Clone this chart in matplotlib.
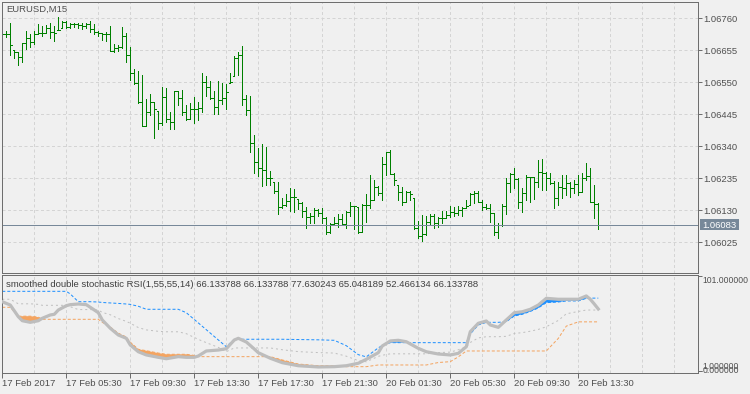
"""EURUSD M15 bar chart with the smoothed double stochastic RSI panel underneath."""
import matplotlib
matplotlib.use("Agg")
import matplotlib.pyplot as plt
import numpy as np
from matplotlib.patches import Rectangle

# --- price bars (one per 15 minutes) ---
HIGH = [
    1.06712, 1.06718, 1.06745, 1.06656, 1.06650, 1.06680, 1.06719, 1.06708, 1.06719, 1.06741,
    1.06735, 1.06738, 1.06743, 1.06735, 1.06765, 1.06751, 1.06751, 1.06745, 1.06745, 1.06745,
    1.06743, 1.06745, 1.06751, 1.06740, 1.06718, 1.06713, 1.06716, 1.06735, 1.06677, 1.06672,
    1.06732, 1.06710, 1.06666, 1.06595, 1.06587, 1.06574, 1.06495, 1.06510, 1.06486, 1.06457,
    1.06535, 1.06530, 1.06453, 1.06521, 1.06521, 1.06524, 1.06475, 1.06483, 1.06502, 1.06486,
    1.06580, 1.06571, 1.06553, 1.06522, 1.06553, 1.06547, 1.06545, 1.06582, 1.06637, 1.06648,
    1.06670, 1.06509, 1.06506, 1.06378, 1.06334, 1.06348, 1.06337, 1.06260, 1.06224, 1.06224,
    1.06170, 1.06184, 1.06203, 1.06200, 1.06167, 1.06156, 1.06142, 1.06121, 1.06137, 1.06134,
    1.06137, 1.06110, 1.06090, 1.06108, 1.06119, 1.06119, 1.06129, 1.06157, 1.06146, 1.06142,
    1.06150, 1.06183, 1.06246, 1.06230, 1.06210, 1.06305, 1.06323, 1.06328, 1.06252, 1.06214,
    1.06208, 1.06195, 1.06195, 1.06172, 1.06096, 1.06115, 1.06113, 1.06118, 1.06118, 1.06110,
    1.06128, 1.06128, 1.06145, 1.06142, 1.06145, 1.06142, 1.06164, 1.06186, 1.06194, 1.06195,
    1.06164, 1.06151, 1.06150, 1.06121, 1.06088, 1.06150, 1.06236, 1.06252, 1.06268, 1.06236,
    1.06203, 1.06246, 1.06241, 1.06241, 1.06296, 1.06299, 1.06257, 1.06252, 1.06227, 1.06224,
    1.06246, 1.06246, 1.06223, 1.06230, 1.06246, 1.06252, 1.06285, 1.06268, 1.06214, 1.06154,
]
LOW = [
    1.06703, 1.06697, 1.06641, 1.06630, 1.06608, 1.06617, 1.06659, 1.06666, 1.06677, 1.06707,
    1.06702, 1.06713, 1.06694, 1.06686, 1.06721, 1.06729, 1.06728, 1.06728, 1.06732, 1.06729,
    1.06725, 1.06727, 1.06716, 1.06707, 1.06702, 1.06688, 1.06685, 1.06652, 1.06648, 1.06654,
    1.06663, 1.06615, 1.06559, 1.06546, 1.06483, 1.06406, 1.06407, 1.06442, 1.06368, 1.06396,
    1.06410, 1.06420, 1.06398, 1.06398, 1.06475, 1.06442, 1.06426, 1.06429, 1.06415, 1.06426,
    1.06451, 1.06506, 1.06495, 1.06447, 1.06447, 1.06479, 1.06462, 1.06547, 1.06571, 1.06575,
    1.06476, 1.06443, 1.06320, 1.06252, 1.06243, 1.06211, 1.06214, 1.06214, 1.06188, 1.06117,
    1.06139, 1.06146, 1.06128, 1.06124, 1.06136, 1.06108, 1.06072, 1.06090, 1.06090, 1.06112,
    1.06090, 1.06052, 1.06057, 1.06082, 1.06077, 1.06082, 1.06072, 1.06112, 1.06068, 1.06057,
    1.06060, 1.06093, 1.06139, 1.06164, 1.06181, 1.06164, 1.06246, 1.06250, 1.06214, 1.06164,
    1.06148, 1.06157, 1.06164, 1.06069, 1.06041, 1.06031, 1.06050, 1.06082, 1.06072, 1.06077,
    1.06090, 1.06106, 1.06110, 1.06113, 1.06115, 1.06113, 1.06137, 1.06148, 1.06154, 1.06157,
    1.06131, 1.06135, 1.06091, 1.06050, 1.06041, 1.06080, 1.06117, 1.06192, 1.06203, 1.06137,
    1.06126, 1.06164, 1.06159, 1.06168, 1.06208, 1.06197, 1.06197, 1.06216, 1.06137, 1.06148,
    1.06170, 1.06179, 1.06173, 1.06186, 1.06181, 1.06192, 1.06230, 1.06157, 1.06106, 1.06069,
]
OPEN = [
    1.06708, 1.06708, 1.06708, 1.06656, 1.06650, 1.06634, 1.06680, 1.06696, 1.06682, 1.06708,
    1.06711, 1.06713, 1.06729, 1.06716, 1.06721, 1.06729, 1.06749, 1.06731, 1.06742, 1.06740,
    1.06738, 1.06733, 1.06741, 1.06725, 1.06716, 1.06710, 1.06708, 1.06707, 1.06653, 1.06663,
    1.06667, 1.06703, 1.06641, 1.06582, 1.06549, 1.06486, 1.06407, 1.06453, 1.06486, 1.06457,
    1.06415, 1.06502, 1.06431, 1.06420, 1.06521, 1.06499, 1.06453, 1.06431, 1.06464, 1.06464,
    1.06466, 1.06551, 1.06533, 1.06500, 1.06469, 1.06493, 1.06498, 1.06547, 1.06571, 1.06629,
    1.06640, 1.06495, 1.06460, 1.06352, 1.06288, 1.06268, 1.06261, 1.06237, 1.06224, 1.06195,
    1.06140, 1.06147, 1.06161, 1.06175, 1.06167, 1.06154, 1.06128, 1.06110, 1.06112, 1.06132,
    1.06121, 1.06104, 1.06060, 1.06086, 1.06090, 1.06102, 1.06085, 1.06126, 1.06146, 1.06142,
    1.06060, 1.06148, 1.06148, 1.06164, 1.06208, 1.06186, 1.06283, 1.06320, 1.06250, 1.06214,
    1.06192, 1.06159, 1.06190, 1.06172, 1.06072, 1.06047, 1.06052, 1.06093, 1.06113, 1.06088,
    1.06106, 1.06106, 1.06115, 1.06126, 1.06121, 1.06131, 1.06137, 1.06148, 1.06183, 1.06186,
    1.06159, 1.06142, 1.06139, 1.06121, 1.06058, 1.06082, 1.06146, 1.06219, 1.06250, 1.06232,
    1.06159, 1.06186, 1.06239, 1.06239, 1.06224, 1.06255, 1.06254, 1.06236, 1.06219, 1.06170,
    1.06208, 1.06205, 1.06219, 1.06203, 1.06216, 1.06192, 1.06236, 1.06243, 1.06159, 1.06150,
]
CLOSE = [
    1.06708, 1.06708, 1.06672, 1.06650, 1.06634, 1.06680, 1.06696, 1.06682, 1.06708, 1.06711,
    1.06710, 1.06729, 1.06716, 1.06713, 1.06722, 1.06749, 1.06731, 1.06742, 1.06740, 1.06738,
    1.06733, 1.06741, 1.06725, 1.06716, 1.06710, 1.06708, 1.06707, 1.06653, 1.06663, 1.06667,
    1.06703, 1.06641, 1.06582, 1.06549, 1.06486, 1.06407, 1.06453, 1.06486, 1.06462, 1.06415,
    1.06502, 1.06431, 1.06420, 1.06521, 1.06499, 1.06453, 1.06431, 1.06464, 1.06464, 1.06466,
    1.06551, 1.06533, 1.06500, 1.06469, 1.06493, 1.06498, 1.06518, 1.06551, 1.06629, 1.06640,
    1.06495, 1.06460, 1.06352, 1.06288, 1.06268, 1.06261, 1.06237, 1.06237, 1.06195, 1.06140,
    1.06147, 1.06161, 1.06175, 1.06173, 1.06154, 1.06128, 1.06110, 1.06112, 1.06132, 1.06121,
    1.06104, 1.06060, 1.06086, 1.06090, 1.06102, 1.06085, 1.06126, 1.06146, 1.06146, 1.06060,
    1.06148, 1.06148, 1.06164, 1.06208, 1.06186, 1.06283, 1.06320, 1.06250, 1.06230, 1.06192,
    1.06159, 1.06190, 1.06183, 1.06072, 1.06047, 1.06052, 1.06093, 1.06113, 1.06088, 1.06106,
    1.06106, 1.06115, 1.06126, 1.06121, 1.06131, 1.06137, 1.06146, 1.06183, 1.06186, 1.06159,
    1.06142, 1.06139, 1.06121, 1.06058, 1.06082, 1.06146, 1.06219, 1.06250, 1.06232, 1.06159,
    1.06186, 1.06239, 1.06239, 1.06224, 1.06255, 1.06254, 1.06236, 1.06219, 1.06170, 1.06208,
    1.06205, 1.06219, 1.06203, 1.06216, 1.06192, 1.06236, 1.06243, 1.06159, 1.06150, 1.06083,
]
LAST_PRICE = 1.06083
PRICE_TICKS = [1.06025, 1.06130, 1.06235, 1.06340, 1.06445, 1.06550, 1.06655, 1.06760]
TIME_TICKS = [0, 16, 32, 48, 64, 80, 96, 112, 128, 144]
TIME_LABELS = ["17 Feb 2017", "17 Feb 05:30", "17 Feb 09:30", "17 Feb 13:30", "17 Feb 17:30",
               "17 Feb 21:30", "20 Feb 01:30", "20 Feb 05:30", "20 Feb 09:30", "20 Feb 13:30"]

# --- indicator, sampled at these bars ---
IND_X = [0, 2, 4, 5, 7, 9, 10, 12, 13, 14, 16, 17, 19, 21, 22, 24, 25, 27, 29, 31,
         32, 34, 36, 39, 41, 44, 46, 48, 49, 51, 54, 56, 58, 59, 61, 63, 64, 67, 70, 74,
         79, 83, 86, 89, 91, 94, 95, 97, 99, 101, 104, 106, 109, 112, 114, 116, 117, 119, 121, 122,
         124, 126, 128, 130, 132, 134, 136, 139, 141, 144, 146, 147, 148, 149]
RSI_MAIN = [73.8, 70.3, 58.0, 53.7, 52.0, 53.7, 56.3, 59.8, 60.5, 65.0, 69.6, 70.7, 71.4, 70.7, 67.9, 62.2, 54.5, 45.7, 38.6, 35.1,
            28.0, 20.9, 17.5, 15.0, 13.5, 15.7, 15.0, 15.0, 16.4, 21.7, 22.7, 24.1, 33.3, 35.1, 31.2, 23.8, 19.9, 14.0, 9.3, 6.1,
            4.8, 5.1, 6.1, 8.7, 12.9, 19.9, 27.0, 32.3, 33.0, 31.5, 24.5, 20.9, 18.5, 17.5, 19.2, 26.2, 42.1, 51.0, 53.4, 49.2,
            46.7, 54.5, 62.2, 63.2, 65.8, 70.3, 77.4, 76.4, 76.4, 76.4, 79.9, 76.4, 71.4, 66.1]
LEVEL_UP = [84.8, 84.8, 84.8, 84.8, 84.8, 84.8, 84.8, 84.8, 84.8, 84.8, 84.8, 82.0, 73.8, 73.8, 73.8, 73.5, 73.0, 72.5, 72.0, 71.4,
            71.0, 69.0, 65.8, 65.8, 65.8, 65.8, 62.2, 55.0, 51.4, 44.2, 33.4, 26.2, 34.1, 34.1, 34.1, 34.1, 34.1, 34.1, 34.1, 33.8,
            33.5, 33.0, 27.3, 17.8, 15.5, 25.0, 27.5, 30.5, 30.5, 30.5, 30.5, 30.5, 30.5, 30.5, 30.5, 30.5, 39.7, 49.2, 52.0, 52.0,
            52.0, 52.7, 58.7, 60.5, 63.5, 67.2, 72.8, 73.5, 74.6, 74.6, 77.4, 77.6, 77.6, 77.6]
LEVEL_DN = [67.9, 67.9, 58.5, 58.5, 58.5, 57.5, 55.2, 55.2, 55.2, 55.2, 55.2, 55.2, 55.2, 55.2, 55.2, 55.2, 52.0, 47.0, 40.5, 36.5,
            31.0, 23.5, 22.0, 19.5, 18.2, 18.2, 18.2, 17.0, 15.7, 15.7, 15.7, 15.7, 15.7, 15.7, 15.7, 15.7, 15.7, 15.7, 12.2, 7.9,
            6.1, 6.1, 5.1, 5.1, 5.1, 6.9, 6.9, 6.9, 6.9, 6.9, 6.9, 6.9, 9.5, 10.4, 15.5, 21.7, 21.7, 21.7, 21.7, 21.7,
            21.7, 21.7, 21.7, 21.7, 21.7, 21.7, 21.7, 35.0, 48.0, 52.5, 52.5, 52.5, 52.5, 52.5]
LEVEL_MID = [76.4, 76.4, 71.6, 71.6, 71.6, 71.0, 70.0, 70.0, 70.0, 70.0, 70.0, 68.5, 65.5, 65.5, 65.5, 65.0, 62.5, 60.0, 56.0, 53.0,
             51.0, 46.5, 44.0, 42.5, 42.0, 42.0, 40.0, 36.0, 34.0, 30.5, 25.5, 21.0, 24.9, 24.9, 24.9, 24.9, 24.9, 24.9, 23.0, 21.0,
             20.0, 19.5, 16.2, 11.5, 10.3, 16.0, 17.2, 18.7, 18.7, 18.7, 18.7, 18.7, 20.0, 20.5, 23.0, 26.0, 30.7, 35.5, 36.8, 36.8,
             36.8, 37.2, 40.2, 41.1, 42.6, 44.5, 47.3, 54.0, 61.0, 63.5, 65.0, 65.0, 65.0, 65.0]
IND_NAME = "smoothed double stochastic RSI(1,55,55,14)"
IND_VALUES = "66.133788 66.133788 77.630243 65.048189 52.466134 66.133788"

plt.rcParams["font.family"] = ["Liberation Sans", "DejaVu Sans"]
plt.rcParams["font.size"] = 6.8

BG = "#f0f0f0"
AXIS = "#6e6e6e"
TEXT = "#505050"
GRID = "#d4d4d4"
BAR = "#008000"
PRICE_LINE = "#778899"
BLUE = "#1e90ff"
ORANGE = "#f4a460"
SILVER = "#c0c0c0"
PX = 0.72  # one pixel, in points
W, H = 750, 394
DASH = (0, (3, 2.5))

fig = plt.figure(figsize=(W / 100, H / 100), dpi=100, facecolor=BG)


def add_panel(top, bottom, left=2.0, right=697.5):
    ax = fig.add_axes([left / W, 1 - bottom / H, (right - left) / W, (bottom - top) / H])
    ax.set_facecolor(BG)
    for s in ax.spines.values():
        s.set_color(AXIS)
        s.set_linewidth(PX)
    ax.set_axisbelow(True)
    ax.set_xlim(-0.075, 173.8)
    return ax


grid_x = np.arange(8, 174, 8)

# main price panel
ax = add_panel(2, 273.3)
ax.set_ylim(1.059239, 1.068132)
x = np.arange(len(CLOSE))
ax.vlines(x, LOW, HIGH, color=BAR, lw=PX, antialiased=False)
ax.hlines(OPEN, x - 0.35, x, color=BAR, lw=PX, antialiased=False)
ax.hlines(CLOSE, x, x + 0.35, color=BAR, lw=PX, antialiased=False)
ax.axhline(LAST_PRICE, color=PRICE_LINE, lw=PX)
ax.set_xticks(grid_x)
ax.set_yticks(PRICE_TICKS)
ax.set_yticklabels([f"{p:.5f}" for p in PRICE_TICKS])
ax.yaxis.tick_right()
ax.tick_params(axis="x", length=0, labelbottom=False)
ax.tick_params(axis="y", direction="out", length=3, width=PX, color=AXIS, labelcolor=TEXT, pad=1.5)
ax.grid(True, color=GRID, lw=PX, ls=DASH)
ax.text(0.0068, 0.9716, "EURUSD,M15", transform=ax.transAxes, va="center", color=TEXT)

# last price tag on the price scale
ppx = (ax.get_ylim()[1] - ax.get_ylim()[0]) / 271.3
ax.add_patch(Rectangle((1 + 2.5 / 695.5, LAST_PRICE - 5.3 * ppx), 39 / 695.5, 10.6 * ppx,
                       transform=ax.get_yaxis_transform(), fc=PRICE_LINE, ec="none", clip_on=False))
ax.text(1 + 5.0 / 695.5, LAST_PRICE, f"{LAST_PRICE:.5f}", transform=ax.get_yaxis_transform(),
        va="center_baseline", ha="left", color="white", clip_on=False)

# indicator panel
ax2 = add_panel(275, 372.7)
ax2.set_ylim(-1.27, 102.06)
ix = np.array(IND_X)
main = np.array(RSI_MAIN)
up = np.array(LEVEL_UP)
dn = np.array(LEVEL_DN)
ax2.plot(ix, LEVEL_MID, color=SILVER, lw=PX, ls=(0, (2, 3)), zorder=1)
ax2.plot(ix, up, color=BLUE, lw=PX, ls=(0, (3, 2)), zorder=1)
ax2.plot(ix, dn, color=ORANGE, lw=PX, ls=(0, (3, 2)), zorder=1)
ax2.fill_between(ix, main, up, where=main >= up, interpolate=True, color=BLUE, lw=0, zorder=2)
ax2.fill_between(ix, main, dn, where=main <= dn, interpolate=True, color=ORANGE, lw=0, zorder=2)
ax2.plot(ix, main, color="#bdbdbd", lw=2.3, zorder=3, solid_joinstyle="round")

ax2.set_xticks(TIME_TICKS)
ax2.set_xticklabels(TIME_LABELS, ha="left")
ax2.set_xticks(grid_x, minor=True)
ax2.tick_params(axis="x", which="major", direction="out", length=3.6, width=PX,
                color=AXIS, labelcolor=TEXT, pad=1)
ax2.tick_params(axis="x", which="minor", length=0)
ax2.grid(True, which="both", axis="x", color=GRID, lw=PX, ls=DASH)
ax2.yaxis.tick_right()
ax2.set_yticks([0, 1, 101])
ax2.tick_params(axis="y", direction="out", length=3, width=PX, color=AXIS, labelright=False)
for label, yf in [("101.000000", 0.9417), ("1.000000", 0.0680), ("0.000000", 0.0240)]:
    ax2.text(1 + 5.2 / 695.5, yf, label, transform=ax2.transAxes, va="center", ha="left",
             color=TEXT, fontsize=6.2, clip_on=False)
ax2.text(0.0058, 0.8977, f"{IND_NAME} {IND_VALUES}", transform=ax2.transAxes,
         va="center", color="#404040")

fig.savefig("out.png", dpi=100, facecolor=BG)
